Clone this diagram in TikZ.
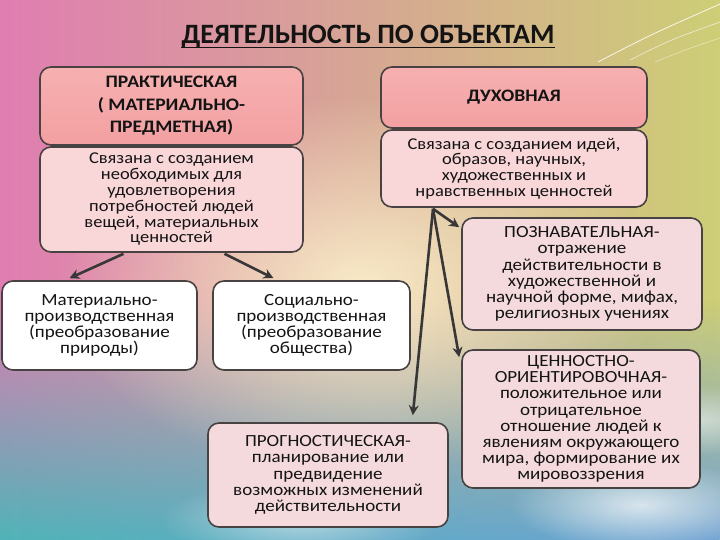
\documentclass[tikz,border=0pt]{standalone}
\usepackage{fontspec}
\setmainfont{Carlito}
\newfontfamily\boxfont[FakeStretch=1.12]{Carlito}
\usetikzlibrary{arrows.meta,fadings,calc}
\definecolor{bgL}{RGB}{224,125,178}
\definecolor{bgM}{RGB}{236,182,155}
\definecolor{bgR}{RGB}{205,206,118}
\definecolor{bgBL}{RGB}{80,180,184}
\definecolor{bgBR}{RGB}{112,162,212}
\definecolor{cream}{RGB}{252,242,205}
\definecolor{hdr}{RGB}{243,160,162}
\definecolor{hdrtop}{RGB}{246,176,176}
\definecolor{bdy}{RGB}{249,214,216}
\definecolor{pinkbox}{RGB}{244,218,221}
\definecolor{edge}{RGB}{72,66,66}
\definecolor{arr}{RGB}{55,55,55}
\definecolor{ink}{RGB}{20,20,20}
\tikzfading[name=glow, inner color=transparent!0, outer color=transparent!100]
\tikzset{
  box/.style={draw=edge, line width=1.6pt, rounded corners=11pt, align=center,
    text=ink, inner sep=0pt},
  hdrbox/.style={box, top color=hdrtop, bottom color=hdr,
    font=\boxfont\bfseries\fontsize{17.5}{22.5}\selectfont},
  bdybox/.style={box, fill=bdy, font=\boxfont\fontsize{16.5}{15.8}\selectfont},
  whitebox/.style={box, fill=white, font=\boxfont\fontsize{17}{15.8}\selectfont},
  pinkbox/.style={box, fill=pinkbox, font=\boxfont\fontsize{17}{16.2}\selectfont},
  conn/.style={draw=arr, line width=2.6pt, -{Stealth[length=10pt,width=10pt]}},
}
\begin{document}
\begin{tikzpicture}[x=1pt,y=-1pt]
\useasboundingbox (0,0) rectangle (720,540);
% background
\shade[left color=bgL, middle color=bgM, right color=bgR] (0,0) rectangle (720,540);
\shade[left color=bgBL, right color=bgBR, path fading=north] (0,300) rectangle (720,540);
\fill[cream, path fading=glow, opacity=.9] (360,285) ellipse [x radius=300, y radius=190];
\fill[white, path fading=glow, opacity=.7] (640,505) ellipse [x radius=130, y radius=45];
\fill[white, path fading=glow, opacity=.5] (700,420) ellipse [x radius=80, y radius=35];
\fill[white, path fading=glow, opacity=.5] (300,520) ellipse [x radius=140, y radius=40];
\draw[white, opacity=.85, line width=.8pt] (598,62) .. controls (650,35) .. (720,4);
\draw[white, opacity=.7, line width=.6pt] (630,60) .. controls (670,40) .. (720,22);
\draw[white, opacity=.5, line width=.6pt] (655,62) .. controls (690,48) .. (720,38);

% title
\node[font=\bfseries\fontsize{28}{28}\selectfont, text=ink, anchor=base, inner sep=0pt]
  (title) at (368,44) {ДЕЯТЕЛЬНОСТЬ ПО ОБЪЕКТАМ};
\draw[ink, line width=1.5pt] ($(title.base west)+(0,3.5)$) -- ($(title.base east)+(0,3.5)$);

% left column
\node[hdrbox, minimum width=263pt, minimum height=78pt] (pracH) at (171.5,106)
  {ПРАКТИЧЕСКАЯ\\( МАТЕРИАЛЬНО-\\ПРЕДМЕТНАЯ)};
\node[bdybox, minimum width=263pt, minimum height=105pt] (pracB) at (171.5,199.5)
  {Связана с созданием\\необходимых для\\удовлетворения\\потребностей людей\\вещей, материальных\\ценностей};

% right column
\node[hdrbox, minimum width=266pt, minimum height=61pt] (duhH) at (514,97.5) {ДУХОВНАЯ};
\node[bdybox, minimum width=266pt, minimum height=77pt] (duhB) at (514,168.5)
  {Связана с созданием идей,\\образов, научных,\\художественных и\\нравственных ценностей};

% lower left
\node[whitebox, minimum width=195pt, minimum height=89pt] (matP) at (99.5,325.5)
  {Материально-\\производственная\\(преобразование\\природы)};
\node[whitebox, minimum width=197pt, minimum height=89pt] (socP) at (311.5,325.5)
  {Социально-\\производственная\\(преобразование\\общества)};

% right lower
\node[pinkbox, minimum width=240pt, minimum height=112pt] (pozn) at (582,274)
  {ПОЗНАВАТЕЛЬНАЯ-\\отражение\\действительности в\\художественной и\\научной форме, мифах,\\религиозных учениях};
\node[pinkbox, minimum width=238pt, minimum height=138pt] (cenn) at (581,419)
  {ЦЕННОСТНО-\\ОРИЕНТИРОВОЧНАЯ-\\положительное или\\отрицательное\\отношение людей к\\явлениям окружающего\\мира, формирование их\\мировоззрения};
\node[pinkbox, minimum width=240pt, minimum height=104pt] (prog) at (328,475)
  {ПРОГНОСТИЧЕСКАЯ-\\планирование или\\предвидение\\возможных изменений\\действительности};

% connectors
\coordinate (srcL1) at ($(pracB.south)+(-48,1)$);
\coordinate (srcL2) at ($(pracB.south)+(53,1)$);
\draw[conn] (srcL1) -- ($(matP.north)+(-30,-2)$);
\draw[conn] (srcL2) -- ($(socP.north)+(-38,-2)$);
\coordinate (srcR) at ($(duhB.south)+(-81,1)$);
\draw[conn] (srcR) -- ($(pozn.north west)+(-2,10)$);
\draw[conn] (srcR) -- ($(cenn.north west)+(-2,8)$);
\draw[conn] (srcR) -- ($(prog.north east)+(-36,-7)$);
\end{tikzpicture}
\end{document}
